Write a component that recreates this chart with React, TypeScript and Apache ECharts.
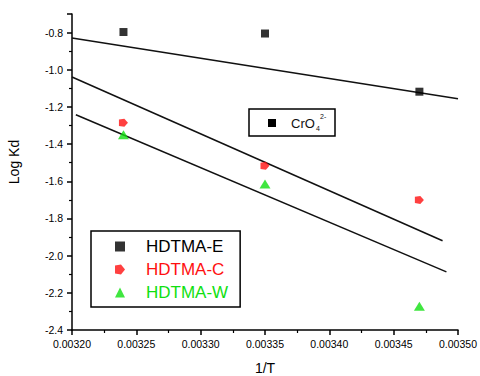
import React, { useEffect, useRef } from "react";
import * as echarts from "echarts";

// 1/T values of the three measurements
const invT = [0.00324, 0.00335, 0.00347];
// Log Kd values
const hdtmaE = [-0.797, -0.805, -1.118];
const hdtmaC = [-1.285, -1.517, -1.70];
const hdtmaW = [-1.35, -1.614, -2.272];
// fitted lines: [x, y] end points
const fitE = [[0.0032, -0.829], [0.0035, -1.156]];
const fitC = [[0.0032, -1.039], [0.003488, -1.92]];
const fitW = [[0.003203, -1.242], [0.003491, -2.087]];
const seriesNames = ["HDTMA-E", "HDTMA-C", "HDTMA-W"];
const seriesColors = ["#000000", "#ff1010", "#10e010"];

const FONT = "Liberation Sans, Arial, sans-serif";

export default function App() {
  const ref = useRef<HTMLDivElement>(null);
  useEffect(() => {
    document.body.style.margin = "0";
    const chart = echarts.init(ref.current!, null, { renderer: "svg" });
    const pts = (ys: number[]) => invT.map((x, i) => [x, ys[i]]);
    const fitLine = (d: number[][]) => ({
      type: "line",
      data: d,
      symbol: "none",
      silent: true,
      lineStyle: { color: "#111", width: 1.5 },
      z: 1,
    });
    chart.setOption({
      animation: false,
      backgroundColor: "#fff",
      grid: { left: 72, right: 22, top: 14, bottom: 46, containLabel: false, outerBoundsMode: "none" },
      xAxis: {
        type: "value",
        min: 0.0032,
        max: 0.0035,
        interval: 0.00005,
        name: "1/T",
        nameLocation: "middle",
        nameGap: 31,
        nameTextStyle: { fontFamily: FONT, fontSize: 14, color: "#000" },
        axisLine: { lineStyle: { color: "#000", width: 1.5 } },
        axisTick: { length: 5, lineStyle: { color: "#000", width: 1.5 } },
        minorTick: { show: true, splitNumber: 2, length: 3, lineStyle: { color: "#000", width: 1.2 } },
        splitLine: { show: false },
        axisLabel: {
          margin: 8,
          fontFamily: FONT,
          fontSize: 10.5,
          color: "#000",
          formatter: (v: number) => v.toFixed(5),
        },
      },
      yAxis: {
        type: "value",
        min: -2.4,
        max: -0.7,
        interval: 0.2,
        axisLine: { show: true, lineStyle: { color: "#000", width: 1.5 } },
        axisTick: { show: true, length: 5, lineStyle: { color: "#000", width: 1.5 } },
        minorTick: { show: true, splitNumber: 2, length: 3, lineStyle: { color: "#000", width: 1.2 } },
        splitLine: { show: false },
        axisLabel: {
          margin: 9,
          fontFamily: FONT,
          fontSize: 10.5,
          color: "#000",
          showMaxLabel: false,
          formatter: (v: number) => v.toFixed(1),
        },
      },
      legend: {
        orient: "vertical",
        left: 91,
        top: 231,
        borderColor: "#000",
        borderWidth: 1.5,
        padding: [7, 12, 6, 24],
        itemGap: 6,
        itemWidth: 10,
        itemHeight: 10,
        selectedMode: false,
        textStyle: { fontFamily: FONT, fontSize: 17, padding: [0, 0, 0, 16] },
        data: seriesNames.map((n, i) => ({ name: n, textStyle: { color: seriesColors[i] } })),
      },
      series: [
        fitLine(fitE),
        fitLine(fitC),
        fitLine(fitW),
        {
          name: seriesNames[0],
          type: "scatter",
          data: pts(hdtmaE),
          symbol: "rect",
          symbolSize: 8,
          itemStyle: { color: seriesColors[0] },
          z: 3,
        },
        {
          name: seriesNames[1],
          type: "scatter",
          data: pts(hdtmaC),
          symbol: "path://M0,1 L6,0 L10,5 L6,10 L0,9 Z",
          symbolSize: [9, 8],
          itemStyle: { color: seriesColors[1] },
          z: 3,
        },
        {
          name: seriesNames[2],
          type: "scatter",
          data: pts(hdtmaW),
          symbol: "triangle",
          symbolSize: [11, 9],
          itemStyle: { color: seriesColors[2] },
          z: 3,
        },
      ],
      graphic: [
        {
          type: "text",
          x: 14,
          y: 162,
          rotation: Math.PI / 2,
          style: {
            text: "Log Kd",
            fontFamily: FONT,
            fontSize: 14,
            fill: "#000",
            align: "center",
            verticalAlign: "middle",
          },
        },
        {
          type: "group",
          children: [
            {
              type: "rect",
              shape: { x: 249, y: 109, width: 86, height: 27 },
              style: { fill: "#fff", stroke: "#000", lineWidth: 1.5 },
            },
            {
              type: "rect",
              shape: { x: 268, y: 119, width: 8, height: 8 },
              style: { fill: "#000" },
            },
            {
              type: "text",
              x: 291,
              y: 123,
              style: { text: "CrO", fontFamily: FONT, fontSize: 13, fill: "#111", verticalAlign: "middle" },
            },
            {
              type: "text",
              x: 316,
              y: 128,
              style: { text: "4", fontFamily: FONT, fontSize: 7, fill: "#111", verticalAlign: "middle" },
            },
            {
              type: "text",
              x: 320,
              y: 116,
              style: { text: "2-", fontFamily: FONT, fontSize: 7, fill: "#111", verticalAlign: "middle" },
            },
          ],
        },
      ],
    });
    return () => chart.dispose();
  }, []);
  return <div ref={ref} style={{ width: 480, height: 376 }} />;
}
